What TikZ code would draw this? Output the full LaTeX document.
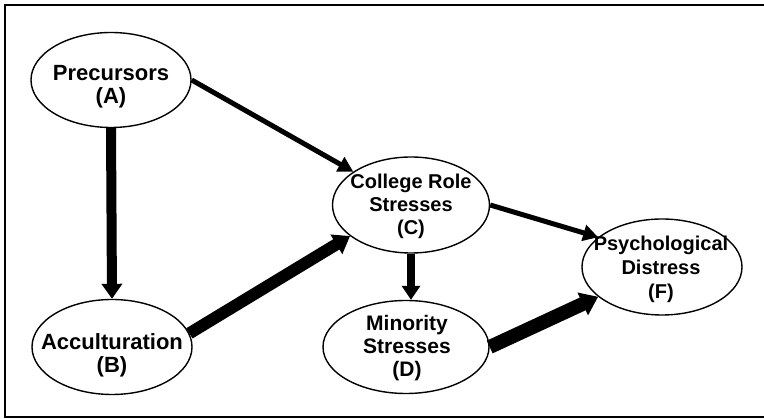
\documentclass[tikz,border=0pt]{standalone}
\usepackage{fontspec}
\setmainfont{Liberation Sans}
\usetikzlibrary{arrows.meta, shapes.geometric}

\begin{document}
\begin{tikzpicture}[x=1pt, y=-1pt, >={Triangle[length=15pt,width=16pt]}]
      \tikzstyle{blob} = [ellipse, draw, line width=1.4pt, inner sep=0pt, minimum width=160pt, minimum height=95pt]
      \tikzstyle{word} = [font=\bfseries\fontsize{21}{23}\selectfont, align=center, inner sep=0pt]
      \useasboundingbox (0,0) rectangle (764,419);
      \draw[line width=2pt] (770,5) -- (5,5) -- (5,417) -- (770,417);
      % ellipses
      \node (A) [blob] at (111,80) {};
      \node (B) [blob] at (112,347) {};
      \node (C) [blob, minimum width=157pt, minimum height=96pt] at (411,205) {};
      \node (D) [blob, minimum width=166pt, minimum height=93pt] at (406,347) {};
      \node (F) [blob, minimum height=96pt] at (662,267) {};
      % texts
      \node (Atext) [word, font=\bfseries\fontsize{22}{23}\selectfont] at (111,87) {Precursors\\(A)};
      \node (Btext) [word, font=\bfseries\fontsize{22}{23}\selectfont] at (112,355) {Acculturation\\(B)};
      \node (Ctext) [word, font=\bfseries\fontsize{20}{23}\selectfont] at (411,206) {College Role\\Stresses\\(C)};
      \node (Dtext) [word] at (407,348) {Minority\\Stresses\\(D)};
      \node (Ftext) [word, font=\bfseries\fontsize{20}{24}\selectfont] at (661,269) {Psychological\\Distress\\(F)};
      % paths
      \draw[->, line width=10pt, >={Triangle[length=15pt,width=20pt]}] (A.south) -- (B.north);
      \draw[->, line width=5pt] (A.east) -- (C.150);
      \draw[->, line width=12pt, >={Triangle[length=16pt,width=22pt]}] (B.10) -- (C.207);
      \draw[->, line width=5pt] (C.east) -- (F.155);
      \draw[->, line width=8pt, >={Triangle[length=14pt,width=18pt]}] (C.south) -- (C.south |- D.north);
      \draw[->, line width=14pt, >={Triangle[length=17pt,width=24pt]}] (D.east) -- (F.205);
\end{tikzpicture}
\end{document}
